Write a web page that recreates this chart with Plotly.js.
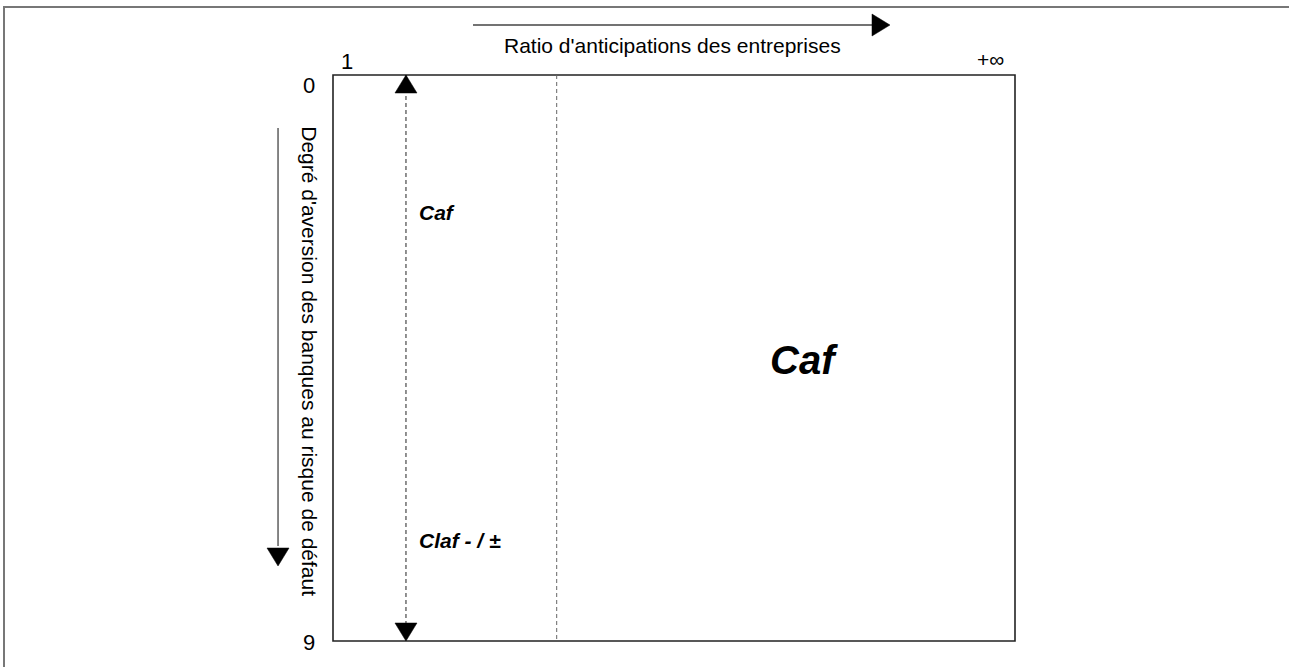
<!DOCTYPE html>
<html>
<head>
<meta charset="utf-8">
<script src="https://cdn.plot.ly/plotly-3.0.1.min.js"></script>
<style>html,body{margin:0;padding:0;background:#fff;}#chart{width:1289px;height:667px;}</style>
</head>
<body>
<div id="chart"></div>
<script>
// ---- data ----
const xAxisTitle = "Ratio d'anticipations des entreprises";
const yAxisTitle = "Degré d'aversion des banques au risque de défaut";
const xTickLabels = ['1', '+∞'];      // ends of the ratio axis
const xTickValues = [0, 100];
const yTickLabels = ['0', '9'];       // ends of the aversion axis
const yTickValues = [0, 9];
const dashedArrowX = [10.7];          // double-headed dashed arrow position
const dividerX = [32.8];              // dashed divider position
const regionLabels = ['Caf', 'Claf - / ±', 'Caf'];
const regionX = [12.3, 12.3, 69.1];
const regionY = [2.18, 7.4, 4.53];
const regionSize = [21, 21, 40];
const regionAnchor = ['left', 'left', 'center'];

const FONT = 'Arial, "Liberation Sans", sans-serif';

const shapes = [];
const annotations = [];

// plot frame
shapes.push({type:'rect', xref:'paper', yref:'paper', x0:0, x1:1, y0:0, y1:1,
  line:{color:'#222', width:1.6}});
// outer figure frame
shapes.push({type:'rect', xref:'paper', yref:'paper', x0:-0.4824, x1:1.6, y0:-0.3, y1:1.1201,
  line:{color:'#777', width:2}});

// top arrow (x axis direction)
shapes.push({type:'line', xref:'paper', yref:'paper', x0:0.2053, x1:0.7920, y0:1.0883, y1:1.0883,
  line:{color:'#444', width:1.3}});
shapes.push({type:'path', xref:'paper', yref:'paper', xsizemode:'pixel', ysizemode:'pixel',
  xanchor:0.8167, yanchor:1.0883, path:'M0,0 L-18,11 L-18,-11 Z',
  fillcolor:'#000', line:{color:'#000', width:0.5}});

// left arrow (y axis direction)
shapes.push({type:'line', xref:'paper', yref:'paper', x0:-0.0806, x1:-0.0806, y0:0.1680, y1:0.9064,
  line:{color:'#444', width:1.3}});
shapes.push({type:'path', xref:'paper', yref:'paper', xsizemode:'pixel', ysizemode:'pixel',
  xanchor:-0.0806, yanchor:0.1325, path:'M0,0 L-11,18 L11,18 Z',
  fillcolor:'#000', line:{color:'#000', width:0.5}});

// dashed double arrow
dashedArrowX.forEach(function(x){
  shapes.push({type:'line', xref:'x', yref:'y', x0:x, x1:x, y0:yTickValues[0], y1:yTickValues[1],
    line:{color:'#222', width:1, dash:'4px,3px'}});
  shapes.push({type:'path', xref:'x', yref:'y', xsizemode:'pixel', ysizemode:'pixel',
    xanchor:x, yanchor:yTickValues[0], path:'M0,0 L-11,-18 L11,-18 Z',
    fillcolor:'#000', line:{color:'#000', width:0.5}});
  shapes.push({type:'path', xref:'x', yref:'y', xsizemode:'pixel', ysizemode:'pixel',
    xanchor:x, yanchor:yTickValues[1], path:'M0,0 L-11,18 L11,18 Z',
    fillcolor:'#000', line:{color:'#000', width:0.5}});
});

// dashed divider
dividerX.forEach(function(x){
  shapes.push({type:'line', xref:'x', yref:'y', x0:x, x1:x, y0:yTickValues[0], y1:yTickValues[1],
    line:{color:'#666', width:1, dash:'4px,3px'}});
});

// tick labels
annotations.push({xref:'x', yref:'y', x:xTickValues[0], y:yTickValues[0], text:xTickLabels[0],
  showarrow:false, xanchor:'center', yanchor:'middle', xshift:14, yshift:14,
  font:{family:FONT, size:22, color:'#000'}});
annotations.push({xref:'x', yref:'y', x:xTickValues[1], y:yTickValues[0], text:xTickLabels[1],
  showarrow:false, xanchor:'center', yanchor:'middle', xshift:-25, yshift:16,
  font:{family:FONT, size:21, color:'#000'}});
annotations.push({xref:'x', yref:'y', x:xTickValues[0], y:yTickValues[0], text:yTickLabels[0],
  showarrow:false, xanchor:'center', yanchor:'middle', xshift:-24, yshift:-10,
  font:{family:FONT, size:22, color:'#000'}});
annotations.push({xref:'x', yref:'y', x:xTickValues[0], y:yTickValues[1], text:yTickLabels[1],
  showarrow:false, xanchor:'center', yanchor:'middle', xshift:-24, yshift:-1,
  font:{family:FONT, size:22, color:'#000'}});

// axis titles
annotations.push({xref:'paper', yref:'paper', x:0.4985, y:1.0530, text:xAxisTitle,
  showarrow:false, xanchor:'center', yanchor:'middle',
  font:{family:FONT, size:21, color:'#000'}});
annotations.push({xref:'paper', yref:'paper', x:-0.0355, y:0.4947, text:yAxisTitle,
  showarrow:false, xanchor:'center', yanchor:'middle', textangle:90,
  font:{family:FONT, size:21, color:'#000'}});

// region labels
regionLabels.forEach(function(t, i){
  annotations.push({xref:'x', yref:'y', x:regionX[i], y:regionY[i], text:'<b><i>'+t+'</i></b>',
    showarrow:false, xanchor:regionAnchor[i], yanchor:'middle',
    font:{family:FONT, size:regionSize[i], color:'#000'}});
});

const layout = {
  width:1289, height:667,
  margin:{l:333, r:274, t:75, b:26, pad:0},
  paper_bgcolor:'#fff', plot_bgcolor:'#fff',
  showlegend:false,
  xaxis:{range:[xTickValues[0], xTickValues[1]], showgrid:false, zeroline:false,
    showticklabels:false, ticks:'', showline:false, fixedrange:true},
  yaxis:{range:[yTickValues[1], yTickValues[0]], showgrid:false, zeroline:false,
    showticklabels:false, ticks:'', showline:false, fixedrange:true},
  shapes:shapes,
  annotations:annotations
};

Plotly.newPlot('chart', [{x:[], y:[], type:'scatter', mode:'markers', hoverinfo:'skip'}], layout,
  {displayModeBar:false, staticPlot:true});
</script>
</body>
</html>
